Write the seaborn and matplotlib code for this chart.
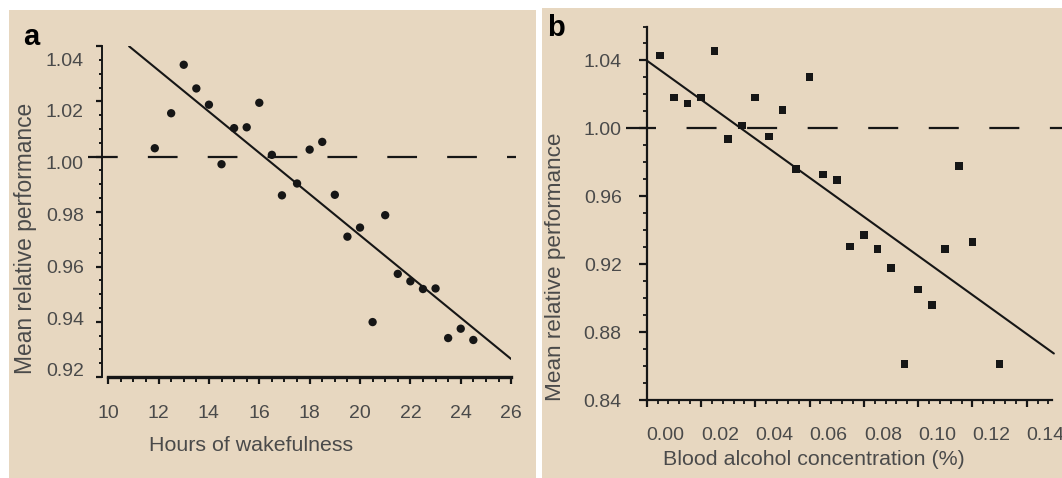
import numpy as np
import pandas as pd
import matplotlib
matplotlib.use("Agg")
import matplotlib.pyplot as plt
import matplotlib.transforms as mtransforms
from matplotlib.patches import Rectangle
from matplotlib.ticker import MultipleLocator, FixedLocator
import seaborn as sns

# ---------------- data ----------------
hours = [11.85, 12.5, 13.0, 13.5, 14.0, 14.5, 15.0, 15.5, 16.0, 16.5, 16.9, 17.5, 18.0,
         18.5, 19.0, 19.5, 20.0, 20.5, 21.0, 21.5, 22.0, 22.5, 23.0, 23.5, 24.0, 24.5]
perf_wake = [1.003, 1.0157, 1.0333, 1.0247, 1.0188, 0.9972, 1.0103, 1.0106, 1.0195, 1.0006,
             0.9859, 0.9902, 1.0025, 1.0053, 0.9861, 0.9709, 0.9742, 0.9399, 0.9787, 0.9574,
             0.9547, 0.9519, 0.9521, 0.9341, 0.9375, 0.9334]
fit_wake_x = [10.83, 26.0]
fit_wake_y = [1.040, 0.9265]

bac = [0.005, 0.010, 0.015, 0.020, 0.025, 0.030, 0.035, 0.040, 0.045, 0.050, 0.055, 0.060,
       0.065, 0.070, 0.075, 0.080, 0.085, 0.090, 0.095, 0.100, 0.105, 0.110, 0.115, 0.120, 0.130]
perf_bac = [1.043, 1.0182, 1.0146, 1.0182, 1.0456, 0.9938, 1.0018, 1.0182, 0.9952, 1.011,
            0.9762, 1.0304, 0.973, 0.9698, 0.9306, 0.9374, 0.9292, 0.9178, 0.8614, 0.9052,
            0.8962, 0.9292, 0.9778, 0.9332, 0.8614]
fit_bac_x = [0.0, 0.150]
fit_bac_y = [1.040, 0.8676]

ref_level = 1.00

xticks_a = [10, 12, 14, 16, 18, 20, 22, 24, 26]
yticks_a = [0.92, 0.94, 0.96, 0.98, 1.00, 1.02, 1.04]
xticks_b = [0.00, 0.02, 0.04, 0.06, 0.08, 0.10, 0.12, 0.14]
yticks_b = [0.84, 0.88, 0.92, 0.96, 1.00, 1.04]

df_a = pd.DataFrame({"hours": hours, "perf": perf_wake})
df_b = pd.DataFrame({"bac": bac, "perf": perf_bac})

# ---------------- style ----------------
sns.set_theme(style="ticks")
plt.rcParams["font.family"] = ["Liberation Sans", "DejaVu Sans"]
plt.rcParams["lines.scale_dashes"] = False

W, H = 1062, 478
BEIGE = "#E7D7C0"
TXT = "#4a4a4a"
INK = "#161616"

fig = plt.figure(figsize=(W / 100, H / 100), dpi=100, facecolor="white")

# beige panel backgrounds
fig.patches.append(Rectangle((8.5 / W, 0), (536 - 8.5) / W, 1 - 10 / H,
                             transform=fig.transFigure, facecolor=BEIGE, edgecolor="none", zorder=-5))
fig.patches.append(Rectangle((541.7 / W, 0), (W - 541.7) / W, 1 - 8.3 / H,
                             transform=fig.transFigure, facecolor=BEIGE, edgecolor="none", zorder=-5))


def px_box(l, r, t, b):
    return [l / W, 1 - b / H, (r - l) / W, (b - t) / H]


axA = fig.add_axes(px_box(102, 511.1, 46.3, 376.9))
axB = fig.add_axes(px_box(646.7, 1051.7, 26.5, 400.4))

for ax in (axA, axB):
    ax.set_facecolor("none")
    for s in ("top", "right"):
        ax.spines[s].set_visible(False)
    ax.spines["left"].set_color(INK)
    ax.spines["bottom"].set_color(INK)

# ---------------- panel a ----------------
axA.axhline(ref_level, xmin=-0.035, xmax=1.011, color=INK, lw=1.6,
            linestyle=(0, (21.4, 21.7)), clip_on=False, zorder=2)
sns.lineplot(x=fit_wake_x, y=fit_wake_y, ax=axA, color=INK, lw=1.5, zorder=3)
sns.scatterplot(data=df_a, x="hours", y="perf", ax=axA, marker="o", s=36,
                color=INK, edgecolor="none", zorder=4, clip_on=False)
axA.set_xlim(10 - 6.2 / 25.18, 26)
axA.set_ylim(0.92, 1.04)
axA.spines["bottom"].set_bounds(10, 26)
axA.spines["bottom"].set_linewidth(2.4)
axA.spines["left"].set_linewidth(1.4)
axA.xaxis.set_major_locator(FixedLocator(xticks_a))
axA.xaxis.set_minor_locator(MultipleLocator(0.5))
axA.yaxis.set_major_locator(FixedLocator(yticks_a))
axA.yaxis.set_minor_locator(MultipleLocator(0.005))
axA.set_xticklabels([f"{v:d}" for v in xticks_a])
axA.set_yticklabels([f"{v:.2f}" for v in yticks_a])
axA.tick_params(axis="x", which="major", length=5, width=1.6, pad=15, labelsize=14,
                labelcolor=TXT, color=INK)
axA.tick_params(axis="x", which="minor", length=3.5, width=1.4, color=INK)
axA.tick_params(axis="y", which="major", length=4, width=1.6, pad=9, labelsize=14,
                labelcolor=TXT, color=INK)
axA.tick_params(axis="y", which="minor", length=2, width=1.4, color=INK)
axA.set_xlabel("Hours of wakefulness", fontsize=15.4, color=TXT)
axA.set_ylabel("Mean relative performance", fontsize=16.4, color=TXT)
axA.xaxis.set_label_coords(0.364, -0.209)
axA.xaxis.label.set_va("center")
axA.yaxis.set_label_coords(-0.186, 0.42)
axA.yaxis.label.set_va("center")
fig.text(23 / W, 1 - 45 / H, "a", fontsize=21, fontweight="bold", color="black",
         ha="left", va="baseline")

# y tick labels of panel a are evenly spread slightly tighter than their ticks in the reference
for i, lab in enumerate(axA.get_yticklabels()):
    off_px = -6.9 + 3.27 * i          # + means label sits lower than its tick
    lab.set_transform(lab.get_transform() +
                      mtransforms.ScaledTranslation(0, -off_px / 100, fig.dpi_scale_trans))

# ---------------- panel b ----------------
axB.axhline(ref_level, xmin=-0.051, xmax=1.05, color=INK, lw=1.6,
            linestyle=(0, (21.6, 22.0)), clip_on=False, zorder=2)
sns.lineplot(x=fit_bac_x, y=fit_bac_y, ax=axB, color=INK, lw=1.5, zorder=3)
for l in axB.lines:
    l.set_clip_on(False)
sns.scatterplot(data=df_b, x="bac", y="perf", ax=axB, marker="s", s=30,
                color=INK, edgecolor="none", zorder=4, clip_on=False)
axB.set_xlim(0, 0.1492)
axB.set_ylim(0.84, 1.06)
axB.spines["bottom"].set_linewidth(1.6)
axB.spines["left"].set_linewidth(1.6)
axB.xaxis.set_major_locator(FixedLocator(xticks_b))
axB.xaxis.set_minor_locator(MultipleLocator(0.004))
axB.yaxis.set_major_locator(FixedLocator(yticks_b))
axB.yaxis.set_minor_locator(MultipleLocator(0.01))
axB.set_xticklabels([f"{v:.2f}" for v in xticks_b])
axB.set_yticklabels([f"{v:.2f}" for v in yticks_b])
axB.tick_params(axis="x", which="major", length=5, width=1.6, pad=14, labelsize=14,
                labelcolor=TXT, color=INK)
axB.tick_params(axis="x", which="minor", length=3, width=1.3, color=INK)
axB.tick_params(axis="y", which="major", length=6, width=1.6, pad=12, labelsize=14,
                labelcolor=TXT, color=INK)
axB.tick_params(axis="y", which="minor", length=3, width=1.3, color=INK)
axB.set_xlabel("Blood alcohol concentration (%)", fontsize=15.4, color=TXT)
axB.set_ylabel("Mean relative performance", fontsize=16.2, color=TXT)
axB.xaxis.set_label_coords(0.413, -0.159)
axB.xaxis.label.set_va("center")
axB.yaxis.set_label_coords(-0.225, 0.357)
axB.yaxis.label.set_va("center")
fig.text(547 / W, 1 - 36 / H, "b", fontsize=21, fontweight="bold", color="black",
         ha="left", va="baseline")

# x tick labels of panel b sit to the right of their ticks in the reference
for lab in axB.get_xticklabels():
    lab.set_transform(lab.get_transform() + mtransforms.ScaledTranslation(0.19, 0, fig.dpi_scale_trans))

fig.savefig("out.png", dpi=100, facecolor="white")
